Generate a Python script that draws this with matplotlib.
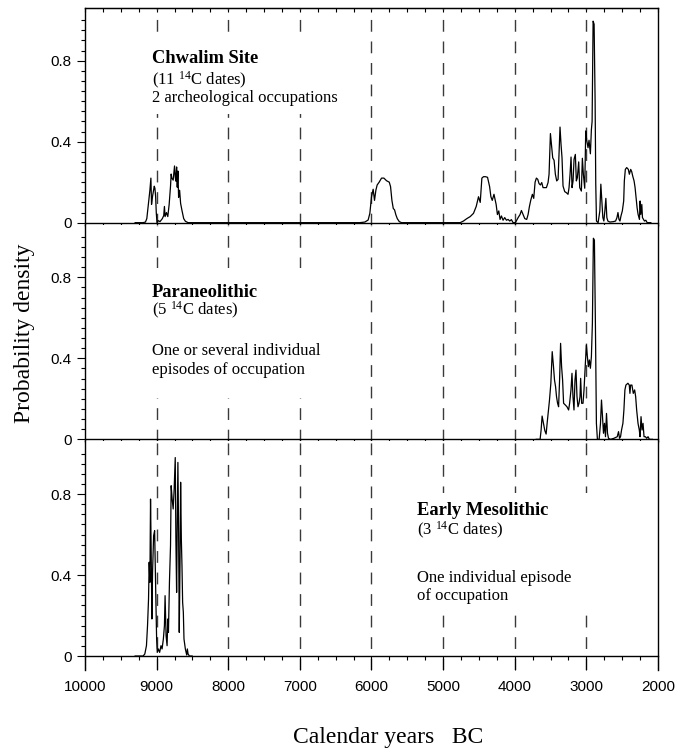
import numpy as np
import matplotlib
matplotlib.use('Agg')
import matplotlib.pyplot as plt
from matplotlib.patches import Rectangle
from matplotlib.ticker import FixedLocator, MultipleLocator

plt.rcParams['font.family'] = 'Liberation Sans'
plt.rcParams['mathtext.fontset'] = 'custom'
plt.rcParams['mathtext.rm'] = 'Liberation Serif'
plt.rcParams['mathtext.it'] = 'Liberation Serif:italic'
plt.rcParams['mathtext.bf'] = 'Liberation Serif:bold'

# summed probability, Chwalim site (all 11 dates)
top_years = [9300, 9189, 9156, 9137, 9118, 9109, 9094, 9080, 9071, 9057, 9042, 9033, 9024, 9014,
             9005, 8995, 8976, 8953, 8920, 8901, 8891, 8882, 8863, 8844, 8825, 8806, 8797, 8788,
             8769, 8750, 8740, 8731, 8721, 8712, 8703, 8693, 8679, 8665, 8646, 8622, 8599, 8561,
             6163, 6093, 6047, 6023, 6000, 5977, 5958, 5939, 5921, 5893, 5860, 5827, 5790, 5752,
             5734, 5715, 5696, 5678, 5659, 5640, 5612, 5580,
             4762, 4716, 4669, 4622, 4576, 4538, 4506, 4482, 4459, 4436, 4408, 4380, 4351, 4333,
             4314, 4290, 4260, 4242, 4223, 4205, 4186, 4163, 4140, 4116, 4093, 4070, 4047, 4023,
             3991, 3953, 3926, 3907, 3884, 3860, 3833, 3814, 3795, 3777, 3754, 3735, 3716, 3698,
             3679, 3661, 3642, 3623, 3605, 3582, 3558, 3535, 3521, 3502, 3488, 3470, 3451, 3433,
             3414, 3395, 3382, 3368, 3354, 3340, 3326, 3302, 3279, 3256, 3242, 3228, 3214, 3200,
             3186, 3172, 3154, 3140, 3126, 3107, 3093, 3070, 3056, 3042, 3023, 3009, 2995, 2977,
             2963, 2944, 2930, 2920, 2906, 2892, 2878, 2869, 2859, 2836, 2812, 2798, 2784, 2770,
             2756, 2742, 2728, 2714, 2700, 2672, 2625, 2592, 2573, 2559, 2545, 2531, 2517, 2498,
             2479, 2470, 2456, 2437, 2414, 2400, 2381, 2367, 2353, 2334, 2320, 2306, 2292, 2278,
             2259, 2250, 2240, 2226, 2217, 2203, 2189, 2170, 2151, 2100]
top_vals = [0, 0, 0.003, 0.02, 0.08, 0.11, 0.16, 0.22, 0.09, 0.13, 0.16, 0.18, 0.17, 0.13,
            0.05, 0.0, 0.01, 0.005, 0.02, 0.035, 0.08, 0.03, 0.05, 0.03, 0.09, 0.18, 0.24, 0.22,
            0.21, 0.28, 0.225, 0.205, 0.275, 0.175, 0.255, 0.125, 0.16, 0.095, 0.06, 0.02, 0.007, 0,
            0, 0.003, 0.013, 0.046, 0.128, 0.165, 0.11, 0.16, 0.186, 0.20, 0.22, 0.22, 0.207, 0.20,
            0.178, 0.11, 0.07, 0.063, 0.038, 0.02, 0.005, 0,
            0, 0.008, 0.02, 0.03, 0.046, 0.08, 0.128, 0.10, 0.22, 0.227, 0.227, 0.224, 0.178, 0.128,
            0.11, 0.14, 0.09, 0.04, 0.058, 0.016, 0.033, 0.012, 0.025, 0.012, 0.016, 0.008, 0.015, 0,
            0, 0.025, 0.04, 0.06, 0.04, 0.02, 0.016, 0.04, 0.08, 0.11, 0.14, 0.12, 0.2, 0.22,
            0.214, 0.193, 0.186, 0.198, 0.173, 0.173, 0.173, 0.198, 0.239, 0.44, 0.387, 0.32, 0.308, 0.239,
            0.206, 0.214, 0.337, 0.472, 0.387, 0.32, 0.181, 0.153, 0.148, 0.14, 0.173, 0.239, 0.324, 0.173,
            0.206, 0.313, 0.337, 0.206, 0.222, 0.30, 0.173, 0.156, 0.318, 0.239, 0.17, 0.453, 0.407, 0.37,
            0.407, 0.34, 0.46, 0.50, 0.995, 0.98, 0.60, 0.19, 0.008, 0, 0.058, 0.19, 0.107, 0.025,
            0.008, 0.058, 0.12, 0.025, 0.008, 0.003, 0.005, 0.008, 0.025, 0.05, 0.016, 0.008, 0.033, 0.058,
            0.107, 0.206, 0.263, 0.272, 0.263, 0.239, 0.263, 0.252, 0.23, 0.206, 0.173, 0.123, 0.074, 0.041,
            0.016, 0.107, 0.041, 0.09, 0.025, 0.016, 0.008, 0.012, 0, 0]

# Paraneolithic (5 dates)
mid_years = [3700, 3646, 3632, 3618, 3599, 3580, 3562, 3548, 3529, 3515, 3496, 3477, 3459, 3445,
             3430, 3417, 3402, 3388, 3374, 3360, 3346, 3332, 3318, 3295, 3271, 3248, 3234, 3215,
             3201, 3187, 3173, 3159, 3145, 3131, 3117, 3103, 3089, 3080, 3066, 3047, 3033, 3014,
             3000, 2986, 2972, 2958, 2944, 2930, 2916, 2902, 2888, 2874, 2860, 2846, 2822, 2803,
             2789, 2775, 2761, 2747, 2733, 2719, 2705, 2691, 2663, 2616, 2569, 2551, 2537, 2523,
             2509, 2490, 2476, 2462, 2448, 2420, 2401, 2392, 2382, 2364, 2345, 2326, 2312, 2298,
             2279, 2261, 2251, 2237, 2223, 2209, 2195, 2176, 2158, 2139, 2120, 2078]
mid_vals = [0, 0, 0.046, 0.115, 0.079, 0.043, 0.026, 0.079, 0.145, 0.194, 0.277, 0.433, 0.359, 0.293,
            0.26, 0.211, 0.178, 0.161, 0.293, 0.474, 0.359, 0.293, 0.178, 0.17, 0.161, 0.145, 0.178, 0.244,
            0.326, 0.211, 0.145, 0.293, 0.342, 0.211, 0.161, 0.178, 0.211, 0.301, 0.178, 0.178, 0.244, 0.375,
            0.466, 0.408, 0.359, 0.392, 0.351, 0.408, 0.573, 0.993, 0.984, 0.573, 0.079, 0, 0, 0.079,
            0.194, 0.112, 0.03, 0.079, 0.013, 0.128, 0.03, 0.005, 0, 0.005, 0.013, 0.038, 0.005, 0.013,
            0.046, 0.079, 0.145, 0.244, 0.268, 0.277, 0.268, 0.227, 0.268, 0.268, 0.227, 0.244, 0.211, 0.145,
            0.079, 0.046, 0.013, 0.112, 0.046, 0.079, 0.013, 0.013, 0.005, 0.013, 0, 0]

# Early Mesolithic (3 dates)
bot_years = [9300, 9212, 9189, 9165, 9142, 9127, 9113, 9104, 9094, 9085, 9076, 9066, 9057, 9042,
             9028, 9019, 9009, 9000, 8991, 8976, 8958, 8939, 8924, 8906, 8891, 8882, 8868, 8854,
             8844, 8835, 8821, 8806, 8797, 8783, 8769, 8755, 8740, 8731, 8721, 8712, 8703, 8693,
             8684, 8674, 8665, 8655, 8646, 8637, 8627, 8618, 8599, 8580, 8571, 8561, 8542, 8504]
bot_vals = [0, 0, 0, 0.01, 0.051, 0.15, 0.281, 0.463, 0.364, 0.775, 0.512, 0.183, 0.413, 0.594,
            0.619, 0.446, 0.249, 0.084, 0.018, 0.035, 0.018, 0.051, 0.035, 0.084, 0.15, 0.298, 0.1, 0.051,
            0.183, 0.117, 0.364, 0.545, 0.841, 0.775, 0.726, 0.825, 0.98, 0.578, 0.314, 0.66, 0.956, 0.611,
            0.117, 0.446, 0.858, 0.578, 0.446, 0.265, 0.216, 0.084, 0.035, 0.005, 0.035, 0.01, 0, 0]

x_ticks = [10000, 9000, 8000, 7000, 6000, 5000, 4000, 3000, 2000]
x_labels = ['10000', '9000', '8000', '7000', '6000', '5000', '4000', '3000', '2000']
dash_years = [9000, 8000, 7000, 6000, 5000, 4000, 3000]
y_ticks = [0, 0.4, 0.8]
y_labels = ['0', '0.4', '0.8']

W, H = 680, 751
serif = 'Liberation Serif'

fig = plt.figure(figsize=(W / 100, H / 100), dpi=100)
gs = fig.add_gridspec(3, 1, height_ratios=[1.07, 1.07, 1.13], hspace=0,
                      left=85 / W, right=658 / W, top=1 - 8 / H, bottom=1 - 670.2 / H)
axes = [fig.add_subplot(gs[i]) for i in range(3)]
series = [(top_years, top_vals), (mid_years, mid_vals), (bot_years, bot_vals)]

for i, (ax, (yrs, vals)) in enumerate(zip(axes, series)):
    last = i == 2
    for yr in dash_years:
        ax.axvline(yr, color='#3a3a3a', lw=1.0, dashes=(8.5, 7), zorder=1)
    ax.plot(yrs, vals, color='black', lw=0.9, zorder=3)
    ax.set_xlim(10000, 2000)
    ax.set_ylim(-0.07 if last else -0.01, 1.06)

    ax.spines['bottom'].set_position(('data', 0))
    ax.spines['top'].set_visible(i == 0)
    for s in ax.spines.values():
        s.set_linewidth(1.0)

    ax.xaxis.set_major_locator(FixedLocator(x_ticks))
    ax.xaxis.set_minor_locator(MultipleLocator(250))
    ax.tick_params(axis='x', which='major', direction='out', length=10 if last else 3,
                   width=0.8, labelbottom=last, labelsize=11, pad=7)
    ax.tick_params(axis='x', which='minor', direction='out', length=3, width=0.8)
    if last:
        ax.set_xticklabels(x_labels)

    ax.yaxis.set_major_locator(FixedLocator(y_ticks))
    ax.yaxis.set_minor_locator(FixedLocator(np.arange(0.05, 1.01, 0.05)))
    ax.set_yticklabels(y_labels)
    ax.tick_params(axis='y', which='major', direction='out', length=6, width=0.8,
                   labelsize=11, pad=3.5)
    ax.tick_params(axis='y', which='minor', direction='out', length=3, width=0.8)

# inward ticks along the top frame
sec = axes[0].secondary_xaxis('top')
sec.xaxis.set_major_locator(MultipleLocator(250))
sec.tick_params(direction='in', length=3, width=0.8, labeltop=False)


def px(x, y):
    return x / W, 1 - y / H


# white boxes behind the annotations
for x0, y0, x1, y1 in [(145, 36, 348, 114), (145, 268, 345, 398), (410, 493, 590, 613)]:
    fig.add_artist(Rectangle(px(x0, y1), (x1 - x0) / W, (y1 - y0) / H,
                             transform=fig.transFigure, facecolor='white',
                             edgecolor='none', zorder=5))

notes = [
    (152, 63, 'Chwalim Site', True),
    (152, 85, '(11 $^{14}$C dates)', False),
    (152, 102, '2 archeological occupations', False),
    (152, 297, 'Paraneolithic', True),
    (152, 315, '(5 $^{14}$C dates)', False),
    (152, 355, 'One or several individual', False),
    (152, 374, 'episodes of occupation', False),
    (417, 515, 'Early Mesolithic', True),
    (417, 535, '(3 $^{14}$C dates)', False),
    (417, 582, 'One individual episode', False),
    (417, 600, 'of occupation', False),
]
for x, y, s, bold in notes:
    fig.text(*px(x, y), s, family=serif, weight='bold' if bold else 'normal',
             size=13.3 if bold else 12, ha='left', va='baseline', zorder=6)

fig.text(*px(25, 333), 'Probability density', family=serif, size=17,
         rotation=90, ha='center', va='center')
fig.text(*px(388, 738), 'Calendar years   BC', family=serif, size=17,
         ha='center', va='center')

fig.savefig('out.png', dpi=100)
